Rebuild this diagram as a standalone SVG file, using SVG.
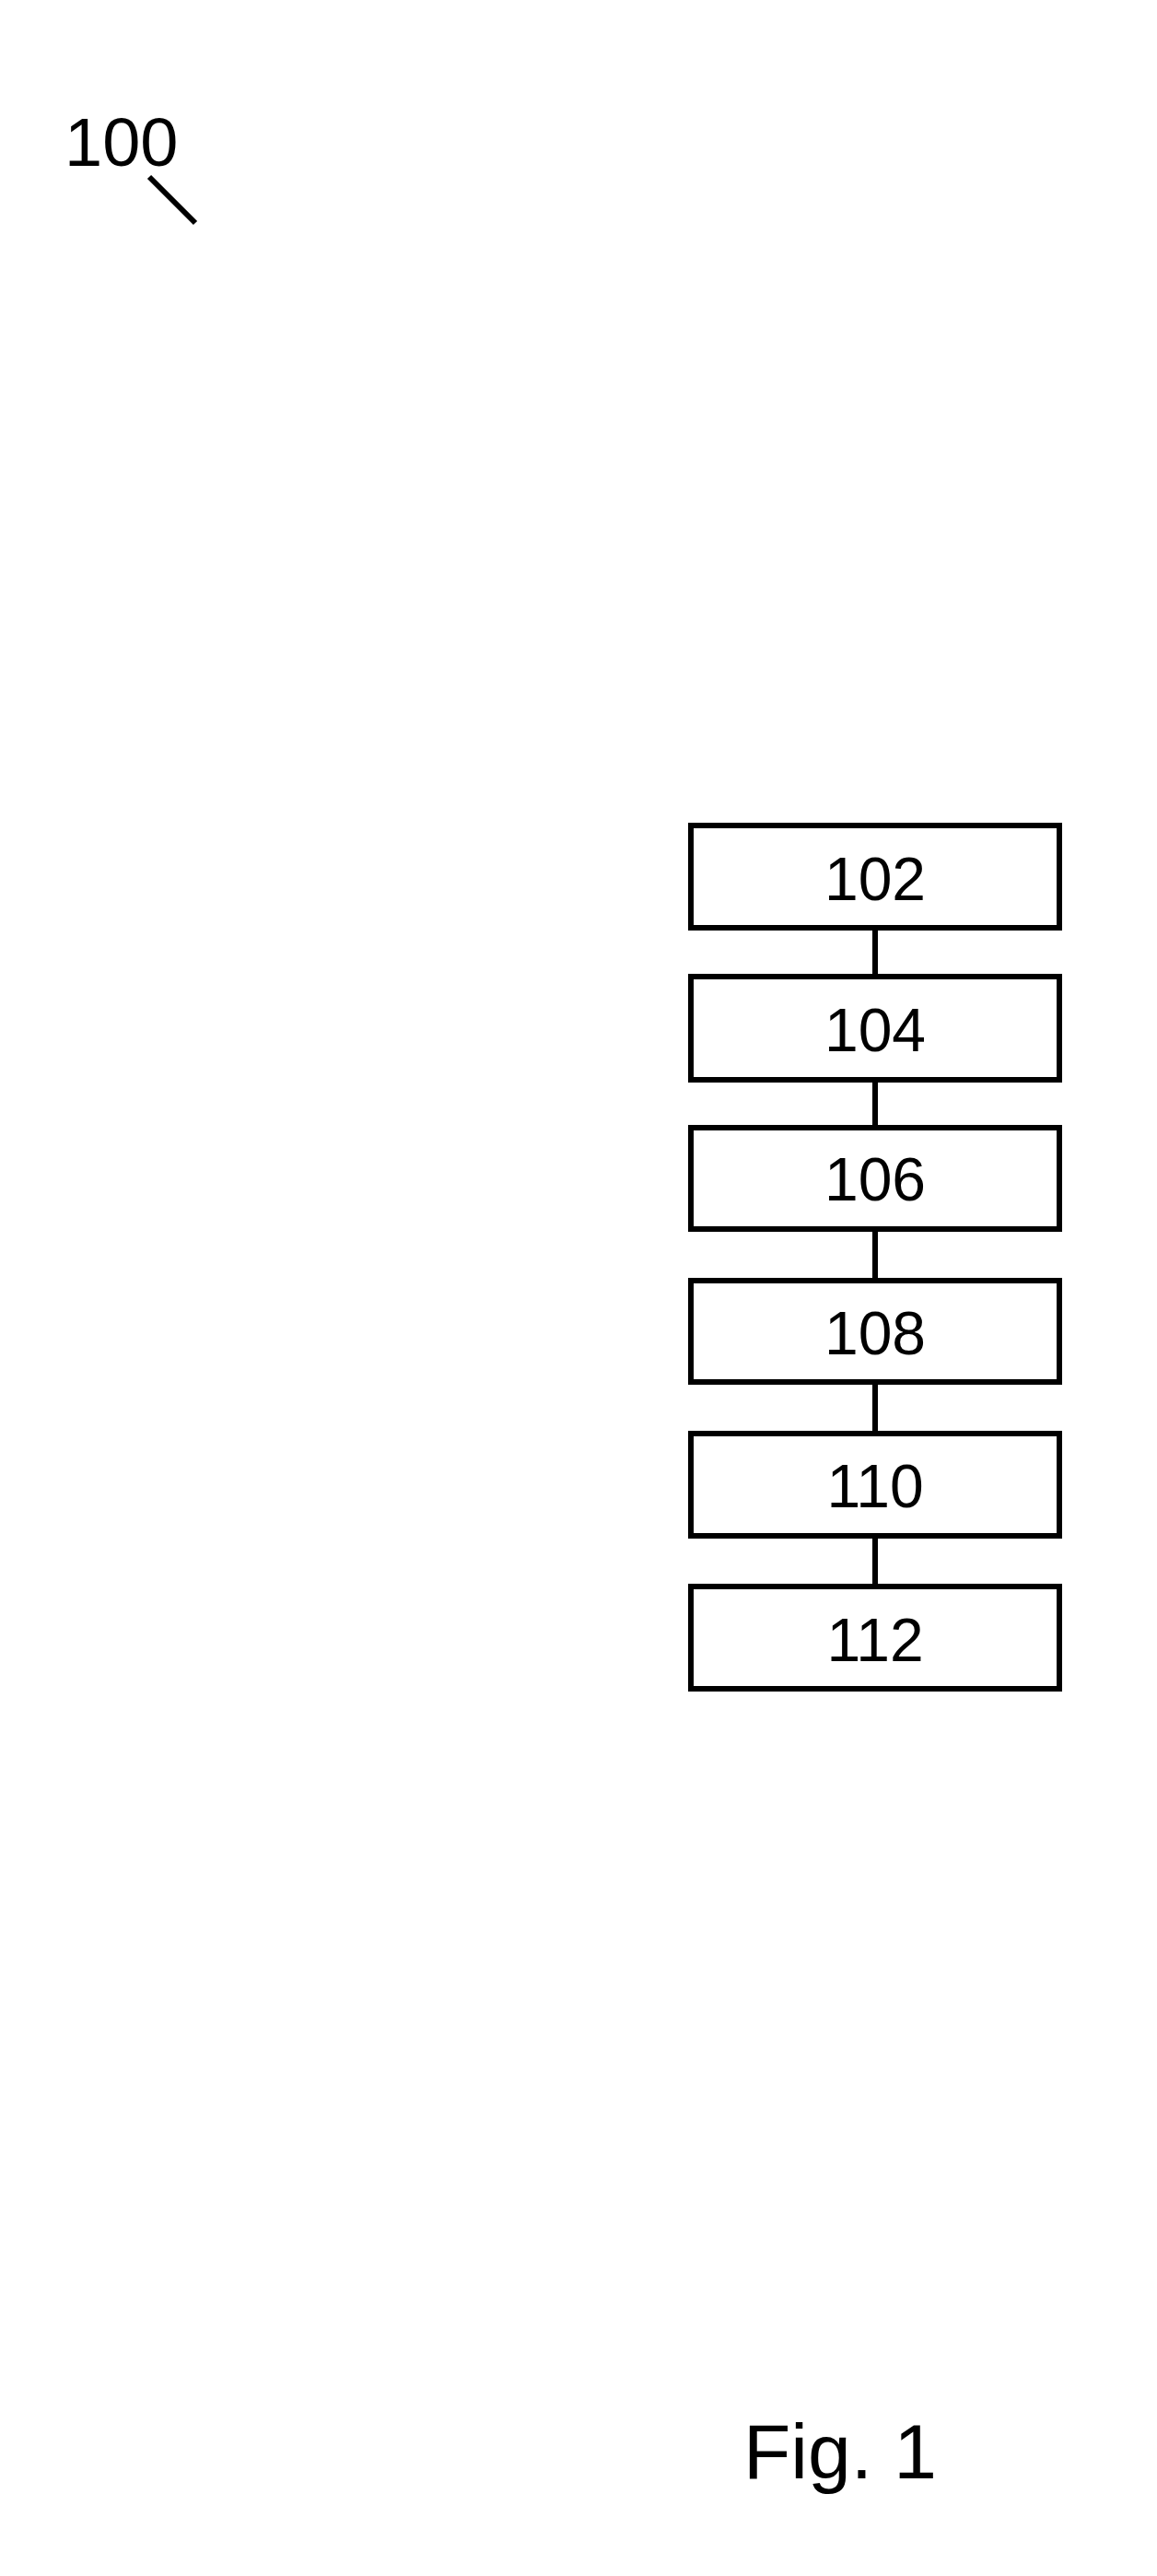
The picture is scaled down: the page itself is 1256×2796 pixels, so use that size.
<svg xmlns="http://www.w3.org/2000/svg" width="1256" height="2796" viewBox="0 0 1256 2796">
<style>
.box{fill:#fff;stroke:#000;stroke-width:6}
.lbl{font-family:"Liberation Sans",Arial,sans-serif;font-size:66px;fill:#000;text-anchor:middle}
.conn{stroke:#000;stroke-width:6;fill:none}
</style>
<rect width="1256" height="2796" fill="#fff"/>
<g id="ref100">
<text x="70" y="180" font-family="Liberation Sans, Arial, sans-serif" font-size="74" fill="#000">100</text>
<line x1="162" y1="192" x2="212" y2="242" stroke="#000" stroke-width="6"/>
</g>
<g id="connectors">
<line class="conn" x1="950" y1="1007" x2="950" y2="1060"/>
<line class="conn" x1="950" y1="1172" x2="950" y2="1224"/>
<line class="conn" x1="950" y1="1334" x2="950" y2="1390"/>
<line class="conn" x1="950" y1="1500" x2="950" y2="1556"/>
<line class="conn" x1="950" y1="1667" x2="950" y2="1722"/>
</g>
<g id="n102"><rect class="box" x="750" y="896" width="400" height="111"/><text class="lbl" x="950" y="977">102</text></g>
<g id="n104"><rect class="box" x="750" y="1060" width="400" height="112"/><text class="lbl" x="950" y="1141">104</text></g>
<g id="n106"><rect class="box" x="750" y="1224" width="400" height="110"/><text class="lbl" x="950" y="1303">106</text></g>
<g id="n108"><rect class="box" x="750" y="1390" width="400" height="110"/><text class="lbl" x="950" y="1470">108</text></g>
<g id="n110"><rect class="box" x="750" y="1556" width="400" height="111"/><text class="lbl" x="950" y="1636">110</text></g>
<g id="n112"><rect class="box" x="750" y="1722" width="400" height="111"/><text class="lbl" x="950" y="1803">112</text></g>
<text id="caption" x="807" y="2690" font-family="Liberation Sans, Arial, sans-serif" font-size="84" fill="#000">Fig. 1</text>
</svg>
